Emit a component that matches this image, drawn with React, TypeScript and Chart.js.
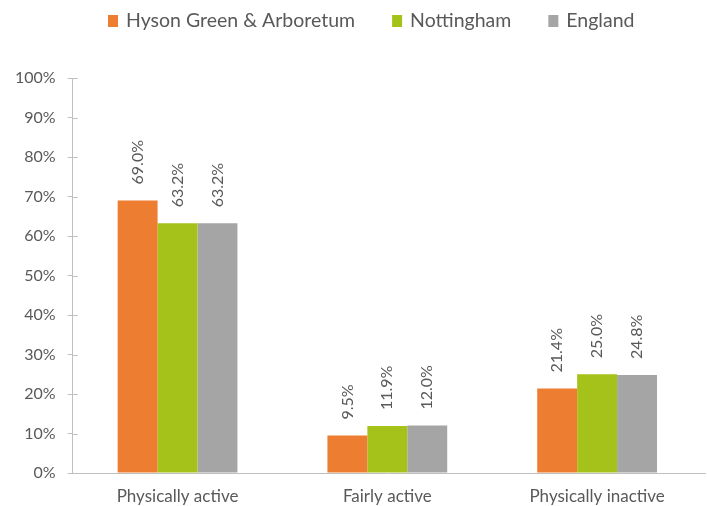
import React, { useEffect, useRef } from "react";
import { Chart, registerables } from "chart.js";

Chart.register(...registerables);

const categories = ["Physically active", "Fairly active", "Physically inactive"];
const hysonGreen = [69.0, 9.5, 21.4];
const nottingham = [63.2, 11.9, 25.0];
const england = [63.2, 12.0, 24.8];
const seriesNames = ["Hyson Green & Arboretum", "Nottingham", "England"];
const seriesColors = ["#ED7D31", "#A5C21A", "#A5A5A5"];

const FONT = "Lato, 'Open Sans', sans-serif";
const TEXT = "#595959";
const AXIS = "#BFBFBF";

const valueLabels = {
  id: "valueLabels",
  afterDatasetsDraw(chart: any) {
    const ctx = chart.ctx;
    ctx.save();
    ctx.fillStyle = TEXT;
    ctx.font = `16px ${FONT}`;
    ctx.textAlign = "left";
    ctx.textBaseline = "middle";
    chart.data.datasets.forEach((ds: any, di: number) => {
      const meta = chart.getDatasetMeta(di);
      meta.data.forEach((el: any, i: number) => {
        const v = ds.data[i] as number;
        ctx.save();
        ctx.translate(el.x, el.y - 16);
        ctx.rotate(-Math.PI / 2);
        ctx.fillText(v.toFixed(1) + "%", 0, 0);
        ctx.restore();
      });
    });
    ctx.restore();
  },
};

const axisExtras = {
  id: "axisExtras",
  afterDraw(chart: any) {
    const ctx = chart.ctx;
    const { left, right, bottom } = chart.chartArea;
    const y = chart.scales.y;
    ctx.save();
    ctx.strokeStyle = AXIS;
    ctx.lineWidth = 1;
    y.ticks.forEach((t: any) => {
      const py = Math.round(y.getPixelForValue(t.value)) + 0.5;
      ctx.beginPath();
      ctx.moveTo(left, py);
      ctx.lineTo(left + 5, py);
      ctx.stroke();
    });
    const by = Math.round(bottom) + 0.5;
    ctx.beginPath();
    ctx.moveTo(right, by);
    ctx.lineTo(chart.width - 1, by);
    ctx.stroke();
    ctx.restore();
  },
};

const customLegend = {
  id: "customLegend",
  afterDraw(chart: any) {
    const ctx = chart.ctx;
    ctx.save();
    ctx.font = `19.5px ${FONT}`;
    ctx.textBaseline = "middle";
    ctx.textAlign = "left";
    let x = 108;
    const y = 21;
    chart.data.datasets.forEach((ds: any) => {
      ctx.fillStyle = ds.backgroundColor;
      ctx.fillRect(x, y - 6, 10, 12);
      x += 10 + 8;
      ctx.fillStyle = TEXT;
      ctx.fillText(ds.label, x, y);
      x += ctx.measureText(ds.label).width + 37;
    });
    ctx.restore();
  },
};

export default function App() {
  const ref = useRef<HTMLCanvasElement>(null);
  useEffect(() => {
    if (!ref.current) return;
    const chart = new Chart(ref.current, {
      type: "bar",
      data: {
        labels: categories,
        datasets: [
          { label: seriesNames[0], data: hysonGreen, backgroundColor: seriesColors[0] },
          { label: seriesNames[1], data: nottingham, backgroundColor: seriesColors[1] },
          { label: seriesNames[2], data: england, backgroundColor: seriesColors[2] },
        ],
      },
      options: {
        animation: false,
        responsive: false,
        maintainAspectRatio: false,
        layout: { padding: { left: 3, right: 5, top: 78, bottom: 0 } },
        datasets: {
          bar: { categoryPercentage: 0.571, barPercentage: 1.0 },
        },
        plugins: {
          legend: { display: false },
          tooltip: { enabled: false },
        },
        scales: {
          x: {
            grid: { display: false },
            border: { color: AXIS, width: 1 },
            ticks: { color: TEXT, font: { family: FONT, size: 17 }, padding: 5 },
            afterFit: (scale: any) => {
              scale.height = 33;
            },
          },
          y: {
            min: 0,
            max: 100,
            ticks: {
              stepSize: 10,
              color: TEXT,
              font: { family: FONT, size: 16 },
              padding: 12,
              callback: (v: any) => v + "%",
            },
            grid: { drawOnChartArea: false, drawTicks: true, tickLength: 5, color: AXIS },
            border: { color: AXIS, width: 1 },
          },
        },
      },
      plugins: [valueLabels, axisExtras, customLegend],
    });
    return () => chart.destroy();
  }, []);
  return (
    <div style={{ position: "fixed", left: 0, top: 0, width: 707, height: 506, background: "#fff" }}>
      <canvas ref={ref} width={707} height={506} style={{ width: 707, height: 506 }} />
    </div>
  );
}
